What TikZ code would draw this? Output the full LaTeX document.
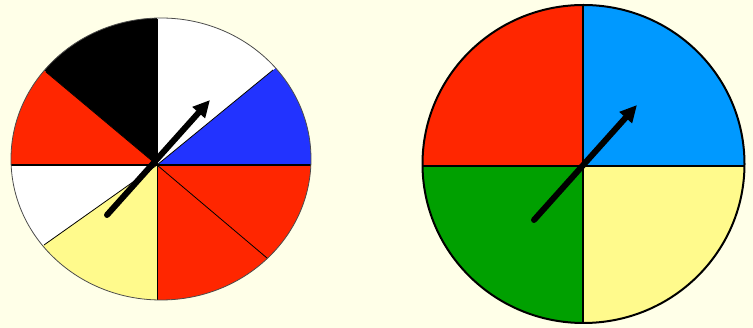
\documentclass[tikz,border=0pt]{standalone}
\usepackage{tikz}
\usetikzlibrary{arrows.meta,calc}
\definecolor{bgcol}{RGB}{255,255,232}
\definecolor{spred}{RGB}{255,38,0}
\definecolor{spblue}{RGB}{34,51,255}
\definecolor{spsky}{RGB}{0,153,255}
\definecolor{spgreen}{RGB}{0,160,0}
\definecolor{spyellow}{RGB}{255,250,140}
\begin{document}
\begin{tikzpicture}[x=1pt,y=-1pt,>={Triangle[length=17pt,width=16pt]},
  divider/.style={black,line width=0.8pt},
  needle/.style={->,black,line width=6pt,line cap=round}]
  \useasboundingbox[fill=bgcol] (0,0) rectangle (753,328);
  % left spinner, eight parts
  \coordinate (hubL) at (157,165);
  \coordinate (pL1) at (157,19);
  \coordinate (pL2) at (46,72);
  \coordinate (pL3) at (11,165);
  \coordinate (pL4) at (44,245);
  \coordinate (pL5) at (157,300);
  \coordinate (pL6) at (267,258);
  \coordinate (pL7) at (311,165);
  \coordinate (pL8) at (273,70);
  \begin{scope}
    \clip (161,159) ellipse (150 and 141);
    \fill[black] (hubL) -- ($(hubL)!2!(pL1)$) -- ($(hubL)!2!(pL2)$) -- cycle;
    \fill[spred] (hubL) -- ($(hubL)!2!(pL2)$) -- ($(hubL)!2!(pL3)$) -- cycle;
    \fill[white] (hubL) -- ($(hubL)!2!(pL3)$) -- ($(hubL)!2!(pL4)$) -- cycle;
    \fill[spyellow] (hubL) -- ($(hubL)!2!(pL4)$) -- ($(hubL)!2!(pL5)$) -- cycle;
    \fill[spred] (hubL) -- ($(hubL)!2!(pL5)$) -- ($(hubL)!2!(pL6)$) -- cycle;
    \fill[spred] (hubL) -- ($(hubL)!2!(pL6)$) -- ($(hubL)!2!(pL7)$) -- cycle;
    \fill[spblue] (hubL) -- ($(hubL)!2!(pL7)$) -- ($(hubL)!2!(pL8)$) -- cycle;
    \fill[white] (hubL) -- ($(hubL)!2!(pL8)$) -- ($(hubL)!2!(pL1)$) -- cycle;
  \end{scope}
  \draw[divider] (hubL) -- (pL1);
  \draw[divider] (hubL) -- (pL2);
  \draw[divider,line width=1.6pt] (pL3) -- (pL7);
  \draw[divider] (hubL) -- (pL4);
  \draw[divider] (hubL) -- (pL5);
  \draw[divider] (hubL) -- (pL6);
  \draw[divider] (hubL) -- (pL8);
  \draw[black!70,line width=0.8pt] (161,159) ellipse (150 and 141);
  \coordinate (tailL) at (107,215);
  \coordinate (tipL) at (210,100);
  \draw[needle] (tailL) -- (tipL);
  % right spinner, four parts
  \coordinate (hubR) at (583,166);
  \begin{scope}
    \clip (583.5,164) ellipse (161 and 159);
    \fill[spred] (hubR) rectangle (400,0);
    \fill[spsky] (hubR) rectangle (760,0);
    \fill[spgreen] (hubR) rectangle (400,330);
    \fill[spyellow] (hubR) rectangle (760,330);
  \end{scope}
  \coordinate (topR) at (583,5);
  \coordinate (botR) at (583,323);
  \coordinate (leftR) at (422.5,166);
  \coordinate (rightR) at (744.5,166);
  \draw[divider,line width=1.8pt] (topR) -- (botR);
  \draw[divider,line width=1.8pt] (leftR) -- (rightR);
  \draw[black,line width=2pt] (583.5,164) ellipse (161 and 159);
  \coordinate (tailR) at (534,220);
  \coordinate (tipR) at (637,105);
  \draw[needle] (tailR) -- (tipR);
\end{tikzpicture}
\end{document}
